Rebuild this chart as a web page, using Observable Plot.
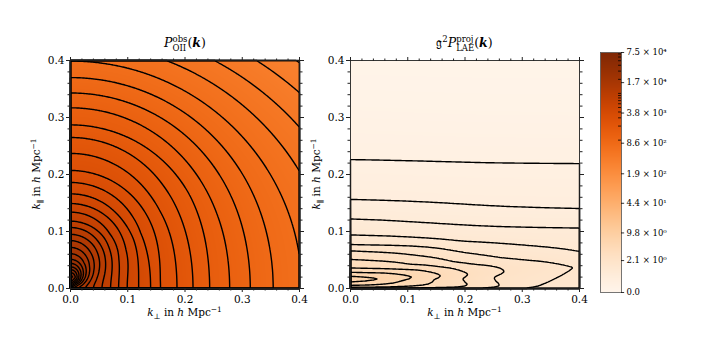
<!DOCTYPE html>
<html><head><meta charset="utf-8">
<script src="https://cdn.jsdelivr.net/npm/d3@7"></script>
<script src="https://cdn.jsdelivr.net/npm/@observablehq/plot@0.6"></script>
<style>
html,body{margin:0;padding:0;background:#fff;}
#chart{position:relative;width:706px;height:345px;overflow:hidden;}
#chart svg{position:absolute;top:0;}
</style></head><body><div id="chart"></div>
<script>
// ---------- axis ticks ----------
const majorTicks = [0, 0.1, 0.2, 0.3, 0.4];
const minorTicks = [0.02, 0.04, 0.06, 0.08, 0.12, 0.14, 0.16, 0.18, 0.22, 0.24, 0.26, 0.28, 0.32, 0.34, 0.36, 0.38];

// ---------- colour bar ----------
const cbarTicks = [0, 2.1, 9.8, 44, 190, 860, 3800, 17000, 75000];
const cbarTickLabels = ["0.0", "2.1 × 10⁰", "9.8 × 10⁰", "4.4 × 10¹", "1.9 × 10²", "8.6 × 10²", "3.8 × 10³", "1.7 × 10⁴", "7.5 × 10⁴"];
const cbarMinor = [1000, 2000, 3000, 4000, 5000, 6000, 7000, 8000, 9000, 10000, 20000, 30000, 40000, 50000, 60000, 70000];

// ---------- left panel: P_OII^obs ----------
const leftLevelIndex  = [-5, -4, -3, -2, -1, 0, 1, 2, 3, 4, 5, 6, 7, 8, 9, 10, 11, 12, 13, 14, 15, 16, 17, 18, 19, 20, 21, 22, 23];
const leftLevelValues = [265, 323, 393, 480, 585, 713, 869, 1059, 1291, 1573, 1918, 2338, 2850, 3474, 4235, 5163, 6293, 7672, 9352, 11400, 13897, 16940, 20650, 25172, 30685, 37405, 45597, 55583, 67756];
// where each contour level crosses the k_perp axis (k_par = 0)
const leftPerpK     = [0, 0.005, 0.014, 0.026, 0.04, 0.055, 0.07, 0.084, 0.099, 0.119, 0.14, 0.157, 0.186, 0.214, 0.243, 0.278, 0.314, 0.354, 0.404, 0.458, 0.513, 0.568, 0.623];
const leftPerpLevel = [17.5, 17, 16, 15, 14, 13, 12, 11, 10, 9, 8, 7, 6, 5, 4, 3, 2, 1, 0, -1, -2, -3, -4];
// where each contour level crosses the k_par axis (k_perp = 0)
const leftParK     = [0, 0.004, 0.008, 0.014, 0.021, 0.028, 0.033, 0.038, 0.044, 0.051, 0.061, 0.072, 0.084, 0.095, 0.107, 0.118, 0.134, 0.149, 0.166, 0.186, 0.207, 0.237, 0.265, 0.287, 0.317, 0.343, 0.37, 0.399, 0.431, 0.463, 0.495, 0.527, 0.559, 0.6];
const leftParLevel = [17.5, 18.5, 20.3, 22.3, 23.3, 22, 21, 20, 19, 18, 17, 16, 15, 14, 13, 12, 11, 10, 9, 8, 7, 6, 5, 4, 3, 2, 1, 0, -1, -2, -3, -4, -5, -6.3];

// ---------- right panel: g^2 P_LAE^proj ----------
const rightLevelIndex  = [-2, -1, 0, 1, 2, 3, 4, 5, 6, 7, 8, 9, 10];
const rightLevelValues = [0.03, 0.121, 0.307, 0.543, 0.845, 1.231, 1.723, 2.35, 3.15, 4.17, 5.48, 7.14, 9.27];
const rightContourIndex = [0, 1, 2, 3, 4, 5, 6, 7, 8, 9];
// level profile along k_perp = 0
const rightAxisK     = [0, 0.0005, 0.002, 0.0053, 0.0085, 0.0115, 0.0135, 0.016, 0.0185, 0.0215, 0.025, 0.03, 0.036, 0.051, 0.066, 0.077, 0.094, 0.122, 0.156, 0.226, 0.33, 0.45];
const rightAxisLevel = [5.85, 6, 7, 8, 8.6, 9.0, 9.3, 9.45, 9.3, 9.0, 8.55, 7.75, 7, 6, 5, 4, 3, 2, 1, 0, -1, -2];
// level profile along k_perp = 0.4
const rightEdgeK     = [0, 0.01, 0.037, 0.065, 0.106, 0.14, 0.219, 0.32, 0.45];
const rightEdgeLevel = [3.5, 3.65, 3.9, 3, 2, 1, 0, -1, -2];
// across k_perp (0, 0.05, ..., 0.4): weight of the k_perp = 0 profile, its stretch in k_par,
// and the weight used right at k_par = 0
const rightWeight      = [1, 0.855, 0.615, 0.42, 0.24, 0.13, 0.07, 0.035, 0];
const rightStretch     = [1, 1.05, 1.25, 1.42, 1.5, 1.85, 2.1, 2.4, 2.6];
const rightFloorWeight = [1, 0.99, 0.96, 0.87, 0.72, 0.45, 0.15, 0.05, 0];
// along k_par: how strongly the stretch acts (0, 0.025, ..., 0.1) and the k_par = 0 weight (0, 0.005, ..., 0.025)
const rightFade  = [1, 1, 0.6, 0.2, 0];
const rightFloor = [1, 0.6, 0.25, 0.08, 0, 0];

// ---------- fields built from the tables ----------
const perpL = d3.scaleLinear(leftPerpK, leftPerpLevel);
const parL = d3.scaleLinear(leftParK, leftParLevel);
const leftLogVal = d3.scaleLinear(leftLevelIndex, leftLevelValues.map(Math.log));
function leftLevel(x, y) {
  const r = Math.hypot(x, y);
  const m2 = r > 0 ? (y * y) / (r * r) : 1;
  return perpL(r) * (1 - m2) + parL(r) * m2;
}
function leftValue(x, y) { return Math.exp(leftLogVal(leftLevel(x, y))); }

const smooth = (values, span) => {
  const f = d3.interpolateBasis(values);
  return v => f(Math.max(0, Math.min(1, v / span)));
};
const rAxis = d3.scaleLinear(rightAxisK, rightAxisLevel);
const rEdge = d3.scaleLinear(rightEdgeK, rightEdgeLevel);
const rW = smooth(rightWeight, 0.4);
const rW0 = smooth(rightFloorWeight, 0.4);
const rB = smooth(rightStretch, 0.4);
const rF = smooth(rightFade, 0.1);
const rH = smooth(rightFloor, 0.025);
const rLev = d3.scaleLinear(rightLevelIndex, rightLevelValues);
const rInv = d3.scaleLinear(rightLevelValues, rightLevelIndex);
function rightValue(x, y) {
  const b = 1 + (rB(x) - 1) * rF(y);
  const w = rW(x) + (rW0(x) - rW(x)) * rH(y);
  const v0 = rLev(rAxis(y / b)), v1 = rLev(rEdge(y));
  return Math.max(0, v1 + (v0 - v1) * w);
}
function rightLevel(x, y) { return rInv(rightValue(x, y)); }

// ---------- drawing ----------
const FONT = '"DejaVu Serif", serif';
const colorOpts = {type: "symlog", constant: 0.55, scheme: "oranges", domain: [0, 75000]};
const chart = document.getElementById("chart");
const fmt = d3.format(".1f");

function axes() {
  const m = [];
  for (const anchor of ["bottom", "top"]) {
    m.push(Plot.axisX(minorTicks, {anchor, tickSize: 2.5, tickFormat: () => "", label: null, stroke: "#222"}));
    m.push(Plot.axisX(majorTicks, {anchor, tickSize: 4, tickPadding: 3, tickFormat: anchor === "bottom" ? fmt : () => "", label: null, stroke: "#222"}));
  }
  for (const anchor of ["left", "right"]) {
    m.push(Plot.axisY(minorTicks, {anchor, tickSize: 2.5, tickFormat: () => "", label: null, stroke: "#222"}));
    m.push(Plot.axisY(majorTicks, {anchor, tickSize: 4, tickPadding: 2, tickFormat: anchor === "left" ? fmt : () => "", label: null, stroke: "#222"}));
  }
  return m;
}

function panel(valueFn, levelFn, thresholds, left) {
  const svg = Plot.plot({
    width: 330, height: 345,
    marginLeft: 70, marginRight: 31, marginTop: 60, marginBottom: 57,
    x: {domain: [0, 0.4]}, y: {domain: [0, 0.4]},
    color: colorOpts,
    style: {background: "none", fontFamily: FONT, fontSize: "10.5px", color: "#000", overflow: "visible"},
    marks: [
      Plot.raster({fill: valueFn, x1: 0, x2: 0.4, y1: 0, y2: 0.4, pixelSize: 1}),
      Plot.contour({value: levelFn, x1: 0, x2: 0.4, y1: 0, y2: 0.4, thresholds, stroke: "#000", strokeWidth: 1.4, fill: "none", pixelSize: 1}),
      Plot.frame({stroke: "#222", strokeWidth: 0.9}),
      ...axes()
    ]
  });
  svg.style.left = left + "px";
  chart.appendChild(svg);
  return svg;
}

const leftSvg = panel(leftValue, leftLevel, leftLevelIndex, 0);
const rightSvg = panel(rightValue, rightLevel, rightContourIndex, 280);

// colour bar
const cbarPos = d3.scaleSymlog().constant(0.55).domain([0, 75000]).range([0, 8]);
const cbar = Plot.plot({
  width: 146, height: 345,
  marginLeft: 40, marginRight: 85, marginTop: 52, marginBottom: 53,
  x: {domain: [0, 1], axis: null}, y: {domain: [0, 8], axis: null},
  color: colorOpts,
  style: {background: "none", fontFamily: FONT, overflow: "visible"},
  marks: [
    Plot.raster({fill: (x, y) => cbarPos.invert(y), x1: 0, x2: 1, y1: 0, y2: 8, pixelSize: 1}),
    Plot.ruleY(cbarMinor, {y: d => cbarPos(d), x1: 0.86, x2: 1, stroke: "#000", strokeWidth: 0.8}),
    Plot.frame({stroke: "#555", strokeWidth: 0.8}),
    Plot.ruleY(cbarTicks, {y: d => cbarPos(d), x1: 1, x2: 1.15, stroke: "#000", strokeWidth: 0.8}),
    Plot.text(cbarTicks, {y: d => cbarPos(d), x: 1, dx: 5, text: (d, i) => cbarTickLabels[i], textAnchor: "start", fontSize: 8.5, fill: "#000"})
  ]
});
cbar.style.left = "560px";
chart.appendChild(cbar);

// rich text: one <text> with tspans (sub/superscripts, stacked sub+sup)
function rich(svg, pieces, x, y, rotate) {
  const t = d3.select(svg).append("text")
    .attr("font-family", FONT).attr("fill", "#000")
    .attr("xml:space", "preserve").style("white-space", "pre");
  let base = 0, lastW = 0, pending = 0;
  for (const p of pieces) {
    const dy = p.dy || 0;
    const ts = t.append("tspan")
      .attr("font-size", p.s)
      .attr("dy", dy - base)
      .attr("font-style", p.i ? "italic" : "normal")
      .attr("font-weight", p.b ? "bold" : "normal")
      .text(p.t);
    base = dy;
    let dx = p.stack ? -lastW : pending;
    if (dx) ts.attr("dx", dx);
    const w = ts.node().getComputedTextLength();
    pending = p.stack ? Math.max(lastW, w) - w : 0;
    lastW = w;
  }
  const bb = t.node().getBBox();
  t.attr("transform", `translate(${x},${y})` + (rotate ? ` rotate(${rotate})` : "") + ` translate(${-(bb.x + bb.width / 2)},0)`);
}
const S = 12.5, s = 8.5, L = 10.5, l = 7.5;
const titleL = [{t: "P", i: 1, s: S}, {t: "obs", s, dy: -5}, {t: "OII", s, dy: 3.5, stack: 1}, {t: "(", s: S}, {t: "k", s: S, i: 1, b: 1}, {t: ")", s: S}];
const titleR = [{t: "𝔤", s: S}, {t: "2", s, dy: -5}, {t: "P", i: 1, s: S}, {t: "proj", s, dy: -5}, {t: "LAE", s, dy: 3.5, stack: 1}, {t: "(", s: S}, {t: "k", s: S, i: 1, b: 1}, {t: ")", s: S}];
const xLab = [{t: "k", i: 1, s: L}, {t: "⊥", s: l, dy: 2.5}, {t: " in ", s: L}, {t: "h", i: 1, s: L}, {t: " Mpc", s: L}, {t: "−1", s: l, dy: -4}];
const yLab = [{t: "k", i: 1, s: L}, {t: "∥", s: l, dy: 2.5}, {t: " in ", s: L}, {t: "h", i: 1, s: L}, {t: " Mpc", s: L}, {t: "−1", s: l, dy: -4}];
for (const svg of [leftSvg, rightSvg]) {
  rich(svg, svg === leftSvg ? titleL : titleR, 184.5, 47);
  rich(svg, xLab, 184.5, 316);
  rich(svg, yLab, 40, 174, -90);
}
</script></body></html>
